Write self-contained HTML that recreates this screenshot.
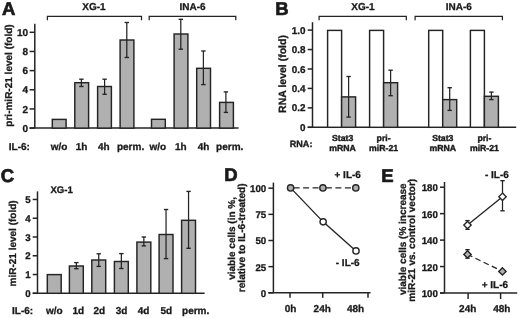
<!DOCTYPE html>
<html><head><meta charset="utf-8"><style>
html,body{margin:0;padding:0;background:#fff;}
svg{display:block;filter:blur(0.3px);}
text{text-rendering:geometricPrecision;font-family:"Liberation Sans",sans-serif;font-weight:bold;fill:#1a1a1a;stroke:#1a1a1a;stroke-width:0.3px;}
</style></head><body>
<svg width="520" height="318" viewBox="0 0 520 318" stroke="#242424">
<rect width="520" height="318" fill="#fff" stroke="none"/>
<text x="1.9" y="15.0" text-anchor="start" font-size="18.5" style="stroke-width:0.7px">A</text>
<polyline points="47.4,20.2 47.4,16.3 141.5,16.3 141.5,20.2" fill="none" stroke-width="1.25"/>
<polyline points="149.2,20.2 149.2,16.3 235.8,16.3 235.8,20.2" fill="none" stroke-width="1.25"/>
<text x="94.0" y="10.0" text-anchor="middle" font-size="10" >XG-1</text>
<text x="192.5" y="10.0" text-anchor="middle" font-size="10" >INA-6</text>
<line x1="34.8" y1="23.8" x2="34.8" y2="128.1" stroke-width="1.5" />
<line x1="29.6" y1="128.1" x2="238.6" y2="128.1" stroke-width="1.5" />
<line x1="29.6" y1="128.1" x2="34.8" y2="128.1" stroke-width="1.5" />
<text x="28.0" y="131.79999999999998" text-anchor="end" font-size="10.0" >0</text>
<line x1="29.6" y1="108.94" x2="34.8" y2="108.94" stroke-width="1.5" />
<text x="28.0" y="112.64" text-anchor="end" font-size="10.0" >2</text>
<line x1="29.6" y1="89.78" x2="34.8" y2="89.78" stroke-width="1.5" />
<text x="28.0" y="93.48" text-anchor="end" font-size="10.0" >4</text>
<line x1="29.6" y1="70.61999999999999" x2="34.8" y2="70.61999999999999" stroke-width="1.5" />
<text x="28.0" y="74.32" text-anchor="end" font-size="10.0" >6</text>
<line x1="29.6" y1="51.459999999999994" x2="34.8" y2="51.459999999999994" stroke-width="1.5" />
<text x="28.0" y="55.16" text-anchor="end" font-size="10.0" >8</text>
<line x1="29.6" y1="32.3" x2="34.8" y2="32.3" stroke-width="1.5" />
<text x="28.0" y="36.0" text-anchor="end" font-size="10.0" >10</text>
<rect x="52.3" y="119.4" width="13.8" height="8.699999999999989" fill="#b0b0b0" stroke-width="1.45"/>
<rect x="74.8" y="82.7" width="13.8" height="45.39999999999999" fill="#b0b0b0" stroke-width="1.45"/>
<line x1="81.4" y1="79.2" x2="81.4" y2="86.5" stroke-width="1.25" />
<line x1="79.2" y1="79.2" x2="83.60000000000001" y2="79.2" stroke-width="1.35" />
<line x1="79.2" y1="86.5" x2="83.60000000000001" y2="86.5" stroke-width="1.35" />
<rect x="97.6" y="86.5" width="13.8" height="41.599999999999994" fill="#b0b0b0" stroke-width="1.45"/>
<line x1="104.6" y1="79.2" x2="104.6" y2="94.3" stroke-width="1.25" />
<line x1="102.39999999999999" y1="79.2" x2="106.8" y2="79.2" stroke-width="1.35" />
<line x1="102.39999999999999" y1="94.3" x2="106.8" y2="94.3" stroke-width="1.35" />
<rect x="120.1" y="40.0" width="13.8" height="88.1" fill="#b0b0b0" stroke-width="1.45"/>
<line x1="126.8" y1="22.5" x2="126.8" y2="57.5" stroke-width="1.25" />
<line x1="124.6" y1="22.5" x2="129.0" y2="22.5" stroke-width="1.35" />
<line x1="124.6" y1="57.5" x2="129.0" y2="57.5" stroke-width="1.35" />
<rect x="151.5" y="119.3" width="13.8" height="8.799999999999997" fill="#b0b0b0" stroke-width="1.45"/>
<rect x="174.1" y="34.0" width="13.8" height="94.1" fill="#b0b0b0" stroke-width="1.45"/>
<line x1="180.8" y1="19.3" x2="180.8" y2="49.2" stroke-width="1.25" />
<line x1="178.60000000000002" y1="19.3" x2="183.0" y2="19.3" stroke-width="1.35" />
<line x1="178.60000000000002" y1="49.2" x2="183.0" y2="49.2" stroke-width="1.35" />
<rect x="196.7" y="68.3" width="13.8" height="59.8" fill="#b0b0b0" stroke-width="1.45"/>
<line x1="203.4" y1="51.0" x2="203.4" y2="84.6" stroke-width="1.25" />
<line x1="201.20000000000002" y1="51.0" x2="205.6" y2="51.0" stroke-width="1.35" />
<line x1="201.20000000000002" y1="84.6" x2="205.6" y2="84.6" stroke-width="1.35" />
<rect x="219.6" y="102.4" width="13.8" height="25.69999999999999" fill="#b0b0b0" stroke-width="1.45"/>
<line x1="225.9" y1="91.9" x2="225.9" y2="112.4" stroke-width="1.25" />
<line x1="223.70000000000002" y1="91.9" x2="228.1" y2="91.9" stroke-width="1.35" />
<line x1="223.70000000000002" y1="112.4" x2="228.1" y2="112.4" stroke-width="1.35" />
<text transform="translate(12.3,75.5) rotate(-90)" x="0" y="0" text-anchor="middle" font-size="10">pri-miR-21 level (fold)</text>
<text x="8.8" y="150.0" text-anchor="start" font-size="10" >IL-6:</text>
<text x="59.05" y="150.0" text-anchor="middle" font-size="10" >w/o</text>
<text x="81.65" y="150.0" text-anchor="middle" font-size="10" >1h</text>
<text x="103.75" y="150.0" text-anchor="middle" font-size="10" >4h</text>
<text x="130.55" y="150.0" text-anchor="middle" font-size="10" >perm.</text>
<text x="157.9" y="150.0" text-anchor="middle" font-size="10" >w/o</text>
<text x="180.85" y="150.0" text-anchor="middle" font-size="10" >1h</text>
<text x="203.55" y="150.0" text-anchor="middle" font-size="10" >4h</text>
<text x="229.7" y="150.0" text-anchor="middle" font-size="10" >perm.</text>
<text x="275.3" y="15.4" text-anchor="start" font-size="18.5" style="stroke-width:0.7px">B</text>
<polyline points="319.1,20.2 319.1,16.3 406.3,16.3 406.3,20.2" fill="none" stroke-width="1.25"/>
<polyline points="415.1,20.2 415.1,16.3 502.4,16.3 502.4,20.2" fill="none" stroke-width="1.25"/>
<text x="363.0" y="10.0" text-anchor="middle" font-size="10" >XG-1</text>
<text x="458.75" y="10.0" text-anchor="middle" font-size="10" >INA-6</text>
<line x1="312.5" y1="22.2" x2="312.5" y2="127.3" stroke-width="1.5" />
<line x1="307.7" y1="127.3" x2="516.2" y2="127.3" stroke-width="1.5" />
<line x1="307.7" y1="127.3" x2="312.5" y2="127.3" stroke-width="1.5" />
<text x="305.6" y="130.9" text-anchor="end" font-size="9.9" >0</text>
<line x1="307.7" y1="107.86" x2="312.5" y2="107.86" stroke-width="1.5" />
<text x="305.6" y="111.46" text-anchor="end" font-size="9.9" >0.2</text>
<line x1="307.7" y1="88.41999999999999" x2="312.5" y2="88.41999999999999" stroke-width="1.5" />
<text x="305.6" y="92.01999999999998" text-anchor="end" font-size="9.9" >0.4</text>
<line x1="307.7" y1="68.97999999999999" x2="312.5" y2="68.97999999999999" stroke-width="1.5" />
<text x="305.6" y="72.57999999999998" text-anchor="end" font-size="9.9" >0.6</text>
<line x1="307.7" y1="49.53999999999999" x2="312.5" y2="49.53999999999999" stroke-width="1.5" />
<text x="305.6" y="53.13999999999999" text-anchor="end" font-size="9.9" >0.8</text>
<line x1="307.7" y1="30.099999999999994" x2="312.5" y2="30.099999999999994" stroke-width="1.5" />
<text x="305.6" y="33.699999999999996" text-anchor="end" font-size="9.9" >1.0</text>
<rect x="327.6" y="30.4" width="14.0" height="96.9" fill="#ffffff" stroke-width="1.45"/>
<rect x="369.6" y="30.4" width="14.0" height="96.9" fill="#ffffff" stroke-width="1.45"/>
<rect x="428.7" y="30.4" width="14.0" height="96.9" fill="#ffffff" stroke-width="1.45"/>
<rect x="470.4" y="30.4" width="14.0" height="96.9" fill="#ffffff" stroke-width="1.45"/>
<rect x="341.6" y="96.9" width="14.0" height="30.39999999999999" fill="#b0b0b0" stroke-width="1.45"/>
<line x1="348.6" y1="76.5" x2="348.6" y2="117.1" stroke-width="1.25" />
<line x1="346.40000000000003" y1="76.5" x2="350.8" y2="76.5" stroke-width="1.35" />
<line x1="346.40000000000003" y1="117.1" x2="350.8" y2="117.1" stroke-width="1.35" />
<rect x="383.6" y="82.7" width="14.0" height="44.599999999999994" fill="#b0b0b0" stroke-width="1.45"/>
<line x1="390.6" y1="70.2" x2="390.6" y2="95.7" stroke-width="1.25" />
<line x1="388.40000000000003" y1="70.2" x2="392.8" y2="70.2" stroke-width="1.35" />
<line x1="388.40000000000003" y1="95.7" x2="392.8" y2="95.7" stroke-width="1.35" />
<rect x="442.7" y="99.6" width="14.0" height="27.700000000000003" fill="#b0b0b0" stroke-width="1.45"/>
<line x1="449.7" y1="87.7" x2="449.7" y2="110.4" stroke-width="1.25" />
<line x1="447.5" y1="87.7" x2="451.9" y2="87.7" stroke-width="1.35" />
<line x1="447.5" y1="110.4" x2="451.9" y2="110.4" stroke-width="1.35" />
<rect x="484.4" y="96.3" width="14.0" height="31.0" fill="#b0b0b0" stroke-width="1.45"/>
<line x1="491.4" y1="92.1" x2="491.4" y2="99.6" stroke-width="1.25" />
<line x1="489.2" y1="92.1" x2="493.59999999999997" y2="92.1" stroke-width="1.35" />
<line x1="489.2" y1="99.6" x2="493.59999999999997" y2="99.6" stroke-width="1.35" />
<text transform="translate(286.3,74.0) rotate(-90)" x="0" y="0" text-anchor="middle" font-size="10.5">RNA level (fold)</text>
<text x="289.7" y="147.3" text-anchor="start" font-size="9.1" >RNA:</text>
<text x="342.6" y="140.8" text-anchor="middle" font-size="8.7" style="stroke-width:0.4px">Stat3</text>
<text x="342.6" y="151.0" text-anchor="middle" font-size="8.7" style="stroke-width:0.4px">mRNA</text>
<text x="383.6" y="140.8" text-anchor="middle" font-size="8.7" style="stroke-width:0.4px">pri-</text>
<text x="383.6" y="151.0" text-anchor="middle" font-size="8.7" style="stroke-width:0.4px">miR-21</text>
<text x="442.8" y="140.8" text-anchor="middle" font-size="8.7" style="stroke-width:0.4px">Stat3</text>
<text x="442.8" y="151.0" text-anchor="middle" font-size="8.7" style="stroke-width:0.4px">mRNA</text>
<text x="484.4" y="140.8" text-anchor="middle" font-size="8.7" style="stroke-width:0.4px">pri-</text>
<text x="484.4" y="151.0" text-anchor="middle" font-size="8.7" style="stroke-width:0.4px">miR-21</text>
<text x="0.7" y="181.9" text-anchor="start" font-size="18.5" style="stroke-width:0.7px">C</text>
<text x="50.4" y="193.3" text-anchor="start" font-size="9.6" >XG-1</text>
<line x1="37.5" y1="191.4" x2="37.5" y2="293.3" stroke-width="1.5" />
<line x1="32.7" y1="293.3" x2="204.6" y2="293.3" stroke-width="1.5" />
<line x1="32.7" y1="293.3" x2="37.5" y2="293.3" stroke-width="1.5" />
<text x="30.6" y="296.90000000000003" text-anchor="end" font-size="9.7" >0</text>
<line x1="32.7" y1="274.53000000000003" x2="37.5" y2="274.53000000000003" stroke-width="1.5" />
<text x="30.6" y="278.13000000000005" text-anchor="end" font-size="9.7" >1</text>
<line x1="32.7" y1="255.76000000000002" x2="37.5" y2="255.76000000000002" stroke-width="1.5" />
<text x="30.6" y="259.36" text-anchor="end" font-size="9.7" >2</text>
<line x1="32.7" y1="236.99" x2="37.5" y2="236.99" stroke-width="1.5" />
<text x="30.6" y="240.59" text-anchor="end" font-size="9.7" >3</text>
<line x1="32.7" y1="218.22000000000003" x2="37.5" y2="218.22000000000003" stroke-width="1.5" />
<text x="30.6" y="221.82000000000002" text-anchor="end" font-size="9.7" >4</text>
<line x1="32.7" y1="199.45000000000002" x2="37.5" y2="199.45000000000002" stroke-width="1.5" />
<text x="30.6" y="203.05" text-anchor="end" font-size="9.7" >5</text>
<rect x="47.3" y="274.6" width="13.9" height="18.69999999999999" fill="#b0b0b0" stroke-width="1.45"/>
<rect x="69.4" y="266.0" width="13.9" height="27.30000000000001" fill="#b0b0b0" stroke-width="1.45"/>
<line x1="76.35000000000001" y1="262.6" x2="76.35000000000001" y2="268.7" stroke-width="1.25" />
<line x1="74.15" y1="262.6" x2="78.55000000000001" y2="262.6" stroke-width="1.35" />
<line x1="74.15" y1="268.7" x2="78.55000000000001" y2="268.7" stroke-width="1.35" />
<rect x="91.8" y="260.0" width="13.9" height="33.30000000000001" fill="#b0b0b0" stroke-width="1.45"/>
<line x1="98.75" y1="253.8" x2="98.75" y2="266.4" stroke-width="1.25" />
<line x1="96.55" y1="253.8" x2="100.95" y2="253.8" stroke-width="1.35" />
<line x1="96.55" y1="266.4" x2="100.95" y2="266.4" stroke-width="1.35" />
<rect x="114.4" y="261.5" width="13.9" height="31.80000000000001" fill="#b0b0b0" stroke-width="1.45"/>
<line x1="121.35000000000001" y1="253.6" x2="121.35000000000001" y2="268.5" stroke-width="1.25" />
<line x1="119.15" y1="253.6" x2="123.55000000000001" y2="253.6" stroke-width="1.35" />
<line x1="119.15" y1="268.5" x2="123.55000000000001" y2="268.5" stroke-width="1.35" />
<rect x="136.9" y="242.1" width="13.9" height="51.20000000000002" fill="#b0b0b0" stroke-width="1.45"/>
<line x1="143.85" y1="237.0" x2="143.85" y2="245.9" stroke-width="1.25" />
<line x1="141.65" y1="237.0" x2="146.04999999999998" y2="237.0" stroke-width="1.35" />
<line x1="141.65" y1="245.9" x2="146.04999999999998" y2="245.9" stroke-width="1.35" />
<rect x="159.1" y="234.5" width="13.9" height="58.80000000000001" fill="#b0b0b0" stroke-width="1.45"/>
<line x1="166.04999999999998" y1="209.5" x2="166.04999999999998" y2="258.6" stroke-width="1.25" />
<line x1="163.85" y1="209.5" x2="168.24999999999997" y2="209.5" stroke-width="1.35" />
<line x1="163.85" y1="258.6" x2="168.24999999999997" y2="258.6" stroke-width="1.35" />
<rect x="181.6" y="220.3" width="13.9" height="73.0" fill="#b0b0b0" stroke-width="1.45"/>
<line x1="188.54999999999998" y1="191.4" x2="188.54999999999998" y2="248.3" stroke-width="1.25" />
<line x1="186.35" y1="191.4" x2="190.74999999999997" y2="191.4" stroke-width="1.35" />
<line x1="186.35" y1="248.3" x2="190.74999999999997" y2="248.3" stroke-width="1.35" />
<text transform="translate(16.0,243.4) rotate(-90)" x="0" y="0" text-anchor="middle" font-size="10">miR-21 level (fold)</text>
<text x="12.0" y="314.0" text-anchor="start" font-size="10" >IL-6:</text>
<text x="54.3" y="314.0" text-anchor="middle" font-size="10" >w/o</text>
<text x="78.4" y="314.0" text-anchor="middle" font-size="10" >1d</text>
<text x="99.4" y="314.0" text-anchor="middle" font-size="10" >2d</text>
<text x="121.6" y="314.0" text-anchor="middle" font-size="10" >3d</text>
<text x="143.6" y="314.0" text-anchor="middle" font-size="10" >4d</text>
<text x="166.35" y="314.0" text-anchor="middle" font-size="10" >5d</text>
<text x="195.65" y="314.0" text-anchor="middle" font-size="10" >perm.</text>
<text x="224.2" y="180.8" text-anchor="start" font-size="18.5" style="stroke-width:0.7px">D</text>
<line x1="273.4" y1="182.6" x2="273.4" y2="292.8" stroke-width="1.5" />
<line x1="268.4" y1="292.8" x2="370.5" y2="292.8" stroke-width="1.5" />
<line x1="268.4" y1="292.8" x2="273.4" y2="292.8" stroke-width="1.5" />
<text x="266.2" y="296.7" text-anchor="end" font-size="9.7" >0</text>
<line x1="268.4" y1="266.65000000000003" x2="273.4" y2="266.65000000000003" stroke-width="1.5" />
<text x="266.2" y="270.55" text-anchor="end" font-size="9.7" >25</text>
<line x1="268.4" y1="240.5" x2="273.4" y2="240.5" stroke-width="1.5" />
<text x="266.2" y="244.4" text-anchor="end" font-size="9.7" >50</text>
<line x1="268.4" y1="214.35000000000002" x2="273.4" y2="214.35000000000002" stroke-width="1.5" />
<text x="266.2" y="218.25000000000003" text-anchor="end" font-size="9.7" >75</text>
<line x1="268.4" y1="188.2" x2="273.4" y2="188.2" stroke-width="1.5" />
<text x="266.2" y="192.1" text-anchor="end" font-size="9.7" >100</text>
<line x1="290.0" y1="292.8" x2="290.0" y2="297.8" stroke-width="1.5" />
<line x1="322.7" y1="292.8" x2="322.7" y2="297.8" stroke-width="1.5" />
<line x1="368.0" y1="292.8" x2="368.0" y2="297.8" stroke-width="1.5" />
<text transform="translate(234.8,238.4) rotate(-90)" x="0" y="0" text-anchor="middle" font-size="10">viable cells (in %,</text>
<text transform="translate(245.1,237.8) rotate(-90)" x="0" y="0" text-anchor="middle" font-size="10.1">relative to IL-6-treated)</text>
<polyline points="290.6,187.9 323.15,221.85 356.0,250.9" fill="none" stroke-width="1.35"/>
<line x1="290.6" y1="187.9" x2="322.9" y2="187.9" stroke-width="1.35" stroke-dasharray="6,3.5" stroke-dashoffset="6.5"/>
<line x1="322.9" y1="187.9" x2="355.8" y2="187.9" stroke-width="1.35" stroke-dasharray="6,3.5" stroke-dashoffset="6.5"/>
<circle cx="323.15" cy="221.85" r="3.15" fill="#fff" stroke-width="1.35"/>
<circle cx="356.0" cy="250.9" r="3.15" fill="#fff" stroke-width="1.35"/>
<circle cx="290.6" cy="187.9" r="3.15" fill="#b0b0b0" stroke-width="1.35"/>
<circle cx="322.9" cy="187.9" r="3.15" fill="#b0b0b0" stroke-width="1.35"/>
<circle cx="355.8" cy="187.9" r="3.15" fill="#b0b0b0" stroke-width="1.35"/>
<text x="347.7" y="177.8" text-anchor="middle" font-size="10" >+ IL-6</text>
<text x="347.7" y="265.7" text-anchor="middle" font-size="10" >- IL-6</text>
<text x="290.6" y="311.8" text-anchor="middle" font-size="10" >0h</text>
<text x="322.2" y="311.8" text-anchor="middle" font-size="10" >24h</text>
<text x="355.6" y="311.8" text-anchor="middle" font-size="10" >48h</text>
<text x="381.3" y="181.6" text-anchor="start" font-size="18.5" style="stroke-width:0.7px">E</text>
<line x1="444.5" y1="182.0" x2="444.5" y2="293.0" stroke-width="1.5" />
<line x1="440.0" y1="293.0" x2="517.2" y2="293.0" stroke-width="1.5" />
<line x1="440.0" y1="293.0" x2="444.5" y2="293.0" stroke-width="1.5" />
<text x="437.9" y="297.1" text-anchor="end" font-size="9.7" >100</text>
<line x1="440.0" y1="266.55" x2="444.5" y2="266.55" stroke-width="1.5" />
<text x="437.9" y="270.65000000000003" text-anchor="end" font-size="9.7" >120</text>
<line x1="440.0" y1="240.1" x2="444.5" y2="240.1" stroke-width="1.5" />
<text x="437.9" y="244.2" text-anchor="end" font-size="9.7" >140</text>
<line x1="440.0" y1="213.65" x2="444.5" y2="213.65" stroke-width="1.5" />
<text x="437.9" y="217.75" text-anchor="end" font-size="9.7" >160</text>
<line x1="440.0" y1="187.2" x2="444.5" y2="187.2" stroke-width="1.5" />
<text x="437.9" y="191.29999999999998" text-anchor="end" font-size="9.7" >180</text>
<line x1="468.1" y1="293.0" x2="468.1" y2="299.0" stroke-width="1.5" />
<line x1="500.6" y1="293.0" x2="500.6" y2="299.0" stroke-width="1.5" />
<text transform="translate(405.5,239.2) rotate(-90)" x="0" y="0" text-anchor="middle" font-size="10">viable cells (% increase</text>
<text transform="translate(415.0,240.3) rotate(-90)" x="0" y="0" text-anchor="middle" font-size="10">miR-21 vs. control vector)</text>
<line x1="502.5" y1="180.7" x2="502.5" y2="210.8" stroke-width="1.25" />
<line x1="500.3" y1="180.7" x2="504.7" y2="180.7" stroke-width="1.35" />
<line x1="500.3" y1="210.8" x2="504.7" y2="210.8" stroke-width="1.35" />
<line x1="467.5" y1="220.6" x2="467.5" y2="229.3" stroke-width="1.25" />
<line x1="465.3" y1="220.6" x2="469.7" y2="220.6" stroke-width="1.35" />
<line x1="465.3" y1="229.3" x2="469.7" y2="229.3" stroke-width="1.35" />
<line x1="467.5" y1="249.7" x2="467.5" y2="258.2" stroke-width="1.25" />
<line x1="465.3" y1="249.7" x2="469.7" y2="249.7" stroke-width="1.35" />
<line x1="465.3" y1="258.2" x2="469.7" y2="258.2" stroke-width="1.35" />
<polyline points="467.5,225.1 502.5,196.8" fill="none" stroke-width="1.35"/>
<polyline points="467.5,254.4 502.4,271.4" fill="none" stroke-width="1.35" stroke-dasharray="5.7,3.4" stroke-dashoffset="0.3"/>
<polygon points="467.5,221.4 471.2,225.1 467.5,228.79999999999998 463.8,225.1" fill="#fff" stroke-width="1.35"/>
<polygon points="502.5,193.10000000000002 506.2,196.8 502.5,200.5 498.8,196.8" fill="#fff" stroke-width="1.35"/>
<polygon points="467.5,250.70000000000002 471.2,254.4 467.5,258.1 463.8,254.4" fill="#b0b0b0" stroke-width="1.35"/>
<polygon points="502.4,267.7 506.09999999999997,271.4 502.4,275.09999999999997 498.7,271.4" fill="#b0b0b0" stroke-width="1.35"/>
<text x="496.9" y="177.5" text-anchor="middle" font-size="10" >- IL-6</text>
<text x="494.9" y="287.9" text-anchor="middle" font-size="10" >+ IL-6</text>
<text x="467.7" y="311.8" text-anchor="middle" font-size="10" >24h</text>
<text x="501.8" y="311.8" text-anchor="middle" font-size="10" >48h</text>
</svg>
</body></html>
